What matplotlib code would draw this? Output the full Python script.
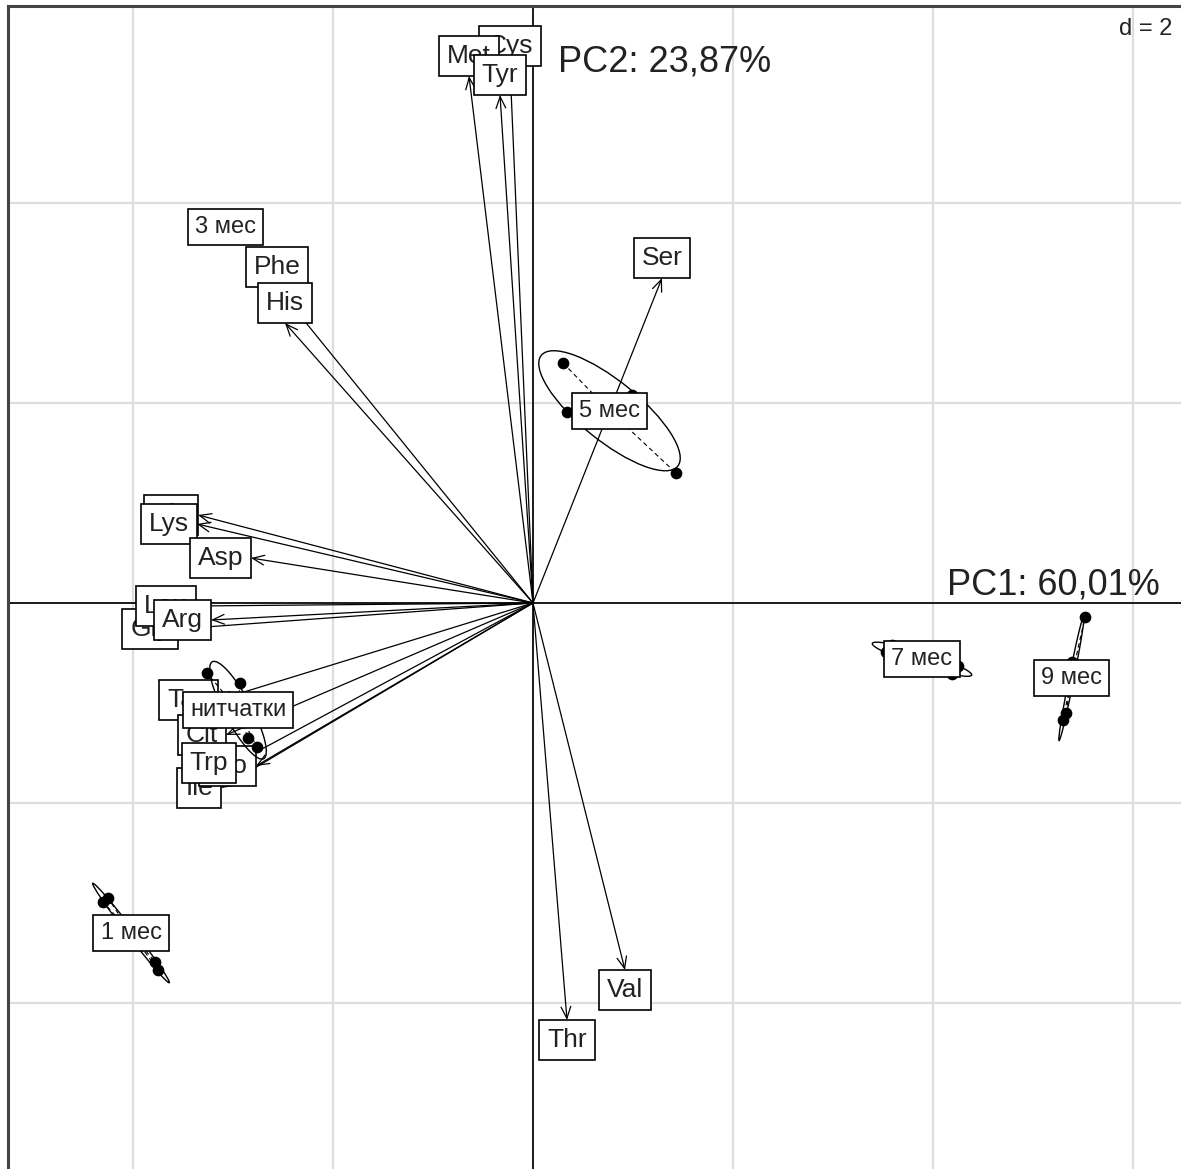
import numpy as np
import matplotlib.pyplot as plt
from matplotlib.patches import Ellipse

plt.rcParams['font.family'] = ['Liberation Sans', 'DejaVu Sans']

# variables (arrow tips), in drawing order
var_names = ['Cys', 'Met', 'Tyr', 'Ser', 'Phe', 'His', 'Ala', 'Lys', 'Asp',
             'Gly', 'Leu', 'Arg', 'Tau', 'Cit', 'Ile', 'Pro', 'Trp', 'Val', 'Thr']
var_x = [-0.23, -0.64, -0.33, 1.29, -2.56, -2.48, -3.35, -3.36, -2.82,
         -3.55, -3.37, -3.22, -3.15, -3.07, -3.12, -2.77, -2.97, 0.92, 0.34]
var_y = [5.37, 5.27, 5.08, 3.25, 3.16, 2.80, 0.88, 0.79, 0.45,
         -0.26, -0.03, -0.17, -0.97, -1.32, -1.85, -1.63, -1.60, -3.67, -4.17]

# sample groups (individual points)
groups = ['1 мес', '3 мес', '5 мес', '7 мес', '9 мес', 'нитчатки']
grp_x = [[-4.30, -4.25, -3.78, -3.75],
         [-3.18, -3.01, -3.11, -3.00],
         [0.30, 0.99, 1.43, 0.34],
         [3.59, 3.53, 4.25, 4.19],
         [5.52, 5.39, 5.33, 5.30],
         [-3.26, -2.93, -2.85, -2.76]]
grp_y = [[-2.99, -2.95, -3.59, -3.67],
         [3.79, 3.77, 3.74, 3.73],
         [2.40, 2.08, 1.30, 1.91],
         [-0.42, -0.49, -0.63, -0.71],
         [-0.14, -0.59, -1.10, -1.17],
         [-0.70, -0.80, -1.35, -1.44]]

pc1 = 'PC1: 60,01%'
pc2 = 'PC2: 23,87%'

fig = plt.figure(figsize=(11.81, 11.69), dpi=100)
ax = fig.add_axes([8 / 1181, 0, 1 - 8 / 1181, 1 - 6 / 1169])
ax.set_xlim(-5.25, 6.48)
ax.set_ylim(-5.66, 5.97)

# grid d = 2
for g in [-4, -2, 2, 4, 6]:
    ax.axvline(g, color='#dddddd', lw=1.6, zorder=0)
    ax.axhline(g, color='#dddddd', lw=1.6, zorder=0)
ax.axvline(0, color='#1a1a1a', lw=1.4, zorder=1)
ax.axhline(0, color='#1a1a1a', lw=1.4, zorder=1)

ax.set_xticks([])
ax.set_yticks([])
for s in ['right', 'bottom']:
    ax.spines[s].set_visible(False)
for s in ['left', 'top']:
    ax.spines[s].set_linewidth(2.2)
    ax.spines[s].set_color('#444444')

box = dict(boxstyle='square,pad=0.3', fc='white', ec='black', lw=1.2)

# arrows
for x, y in zip(var_x, var_y):
    ax.annotate('', xy=(x, y), xytext=(0, 0),
                arrowprops=dict(arrowstyle='->,head_length=0.6,head_width=0.25',
                                lw=0.9, color='black', mutation_scale=14,
                                shrinkA=0, shrinkB=0), zorder=2)

# variable labels, box edge on the arrow tip
off = 5.7
for i, name in enumerate(var_names):
    x, y = var_x[i], var_y[i]
    if abs(x) > abs(y):
        ha, va = ('left' if x > 0 else 'right'), 'center'
        dx, dy = (off if x > 0 else -off), 0
    else:
        ha, va = 'center', ('bottom' if y > 0 else 'top')
        dx, dy = 0, (off if y > 0 else -off)
    ax.annotate(name, xy=(x, y), xytext=(dx, dy), textcoords='offset points',
                ha=ha, va=va, fontsize=19, color='#222222', bbox=box, zorder=3)

# groups: ellipses, stars, points, labels
for name, xs, ys in zip(groups, grp_x, grp_y):
    pts = np.column_stack([xs, ys])
    cx, cy = pts.mean(axis=0)
    cov = np.cov(pts.T, bias=True)
    vals, vecs = np.linalg.eigh(cov)
    ang = np.degrees(np.arctan2(vecs[1, 1], vecs[0, 1]))
    ell = Ellipse((cx, cy), 2 * 1.5 * np.sqrt(vals[1]), 2 * 1.5 * np.sqrt(vals[0]),
                  angle=ang, fill=False, ec='black', lw=1.0, zorder=4)
    ax.add_patch(ell)
    for px, py in pts:
        ax.plot([cx, px], [cy, py], color='black', lw=0.8, ls=(0, (4, 3)), zorder=4)
    ax.scatter(xs, ys, s=55, color='black', zorder=5)
    ax.text(cx, cy, name, ha='center', va='center', fontsize=17, color='#222222',
            bbox=dict(boxstyle='square,pad=0.3', fc='white', ec='black', lw=1.2),
            zorder=6)

ax.text(6.27, 0.08, pc1, ha='right', va='baseline', fontsize=26, color='#222222')
ax.text(0.25, 5.31, pc2, ha='left', va='baseline', fontsize=26, color='#222222')
ax.text(6.39, 5.85, 'd = 2', ha='right', va='top', fontsize=17, color='#222222')

fig.savefig('out.png', dpi=100)
